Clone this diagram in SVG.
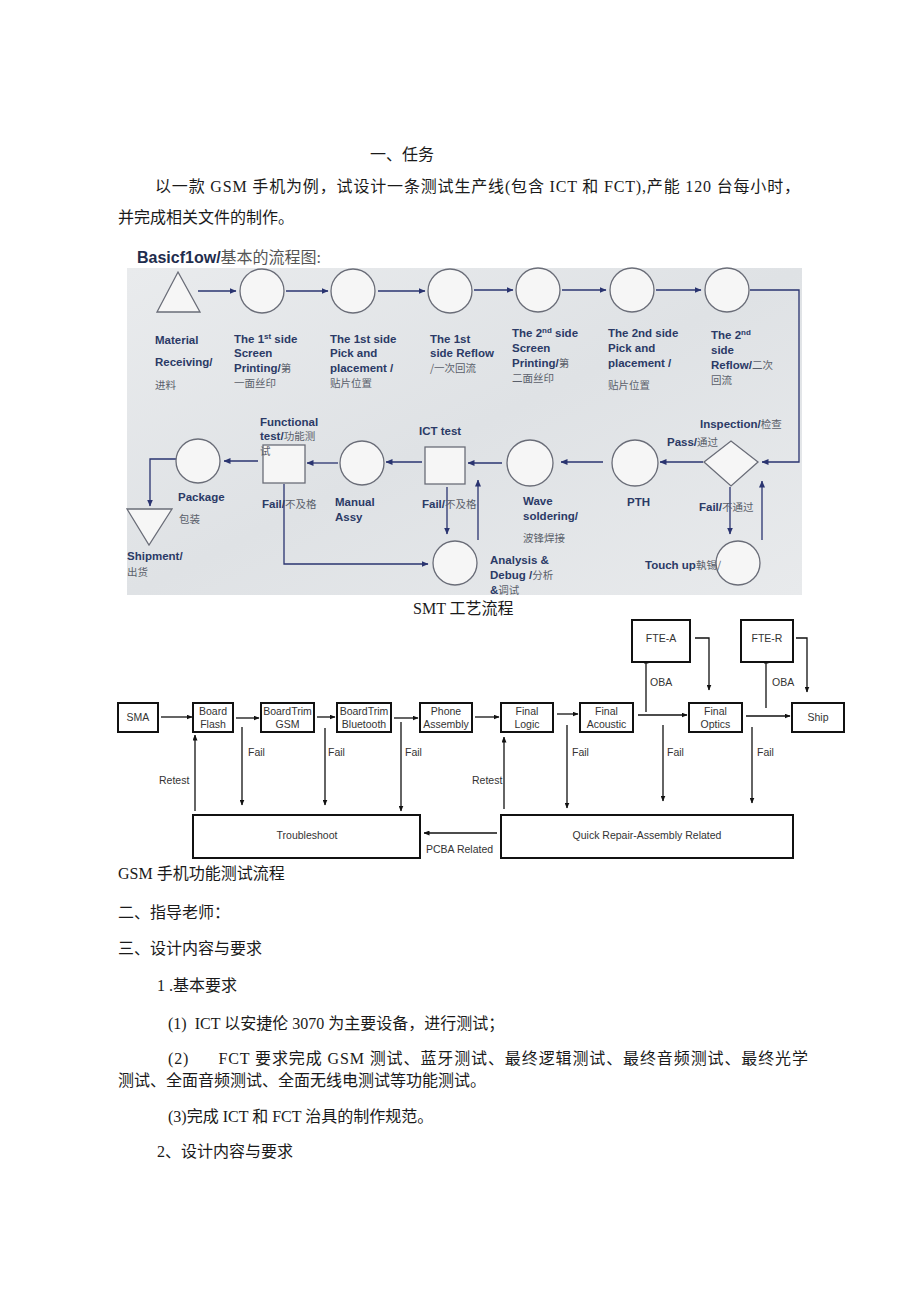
<svg xmlns="http://www.w3.org/2000/svg" width="920" height="1301" viewBox="0 0 920 1301">
<defs>
<linearGradient id="bg" x1="0" y1="0" x2="1" y2="1">
<stop offset="0" stop-color="#e9ebed"/>
<stop offset="0.5" stop-color="#dfe2e5"/>
<stop offset="1" stop-color="#e8eaec"/>
</linearGradient>
<marker id="ah" markerWidth="7" markerHeight="6" refX="6.5" refY="3" orient="auto" markerUnits="userSpaceOnUse">
<path d="M0,0 L7,3 L0,6 Z" fill="#2a3470"/>
</marker>
<marker id="bh" markerWidth="6" markerHeight="5" refX="5.5" refY="2.5" orient="auto" markerUnits="userSpaceOnUse">
<path d="M0,0 L6,2.5 L0,5 Z" fill="#111"/>
</marker>
<style>
.body{font-family:"Liberation Serif","Noto Sans CJK SC",serif;font-size:16px;fill:#1a1a1a}
.lb{font-family:"Liberation Sans","Noto Sans CJK SC",sans-serif;font-size:11.5px;font-weight:bold;fill:#2b3a66}
.cn{font-family:"Noto Sans CJK SC",sans-serif;font-size:10.5px;font-weight:normal;fill:#5a5f6a}
.nd{fill:#f6f6f6;stroke:#6a6d78;stroke-width:1.3}
.cw{fill:none;stroke:#2a3470;stroke-width:1.3}
.bx{fill:#fff;stroke:#111;stroke-width:2}
.bt{font-family:"Liberation Sans",Arial,sans-serif;font-size:10.5px;fill:#333;text-anchor:middle}
.bl{font-family:"Liberation Sans",Arial,sans-serif;font-size:10.5px;fill:#333}
.bw{fill:none;stroke:#111;stroke-width:1.3}
</style>
</defs>
<rect width="920" height="1301" fill="#fff"/>

<g id="text-top">
<text class="body" x="370" y="160">一、任务</text>
<text class="body" x="155" y="192" textLength="645" lengthAdjust="spacing">以一款 GSM 手机为例，试设计一条测试生产线(包含 ICT 和 FCT),产能 120 台每小时，</text>
<text class="body" x="118" y="223">并完成相关文件的制作。</text>
<text x="137" y="263" font-family="Liberation Sans,sans-serif" font-size="16" font-weight="bold" fill="#1f2d4d">Basicf1ow/<tspan font-family="Liberation Serif,Noto Sans CJK SC,serif" font-weight="normal" fill="#555">基本的流程图:</tspan></text>
</g>

<rect id="smt-bg" x="127" y="268" width="675" height="327" fill="url(#bg)"/>

<g id="smt-connectors">
<line class="cw" x1="198" y1="291" x2="236" y2="291" marker-end="url(#ah)"/>
<line class="cw" x1="286" y1="291" x2="328" y2="291" marker-end="url(#ah)"/>
<line class="cw" x1="378" y1="291" x2="425" y2="291" marker-end="url(#ah)"/>
<line class="cw" x1="474" y1="290" x2="513" y2="290" marker-end="url(#ah)"/>
<line class="cw" x1="562" y1="290" x2="606" y2="290" marker-end="url(#ah)"/>
<line class="cw" x1="656" y1="290" x2="701" y2="290" marker-end="url(#ah)"/>
<path class="cw" d="M750,290 H799 V462 H762" marker-end="url(#ah)"/>
<line class="cw" x1="703" y1="462" x2="660" y2="462" marker-end="url(#ah)"/>
<line class="cw" x1="603" y1="462" x2="561" y2="462" marker-end="url(#ah)"/>
<line class="cw" x1="502" y1="463" x2="468" y2="463" marker-end="url(#ah)"/>
<line class="cw" x1="422" y1="462" x2="386" y2="462" marker-end="url(#ah)"/>
<line class="cw" x1="338" y1="463" x2="307" y2="463" marker-end="url(#ah)"/>
<line class="cw" x1="258" y1="461" x2="224" y2="461" marker-end="url(#ah)"/>
<path class="cw" d="M177,459 H150 V506" marker-end="url(#ah)"/>
<path class="cw" d="M284,484 V564 H428" marker-end="url(#ah)"/>
<line class="cw" x1="447" y1="487" x2="447" y2="534" marker-end="url(#ah)"/>
<line class="cw" x1="478" y1="540" x2="478" y2="480" marker-end="url(#ah)"/>
<line class="cw" x1="730" y1="487" x2="730" y2="534" marker-end="url(#ah)"/>
<line class="cw" x1="762" y1="540" x2="762" y2="481" marker-end="url(#ah)"/>
</g>

<g id="n-material"><polygon class="nd" points="178,272 200,312 157,312"/>
<text class="lb" x="155" y="344">Material</text><text class="lb" x="155" y="366">Receiving/</text><text class="lb cn" x="155" y="389">进料</text></g>
<g id="n-print1"><circle class="nd" cx="262" cy="291" r="22"/>
<text class="lb" x="234" y="343">The 1<tspan font-size="8" dy="-4">st</tspan><tspan dy="4"> side</tspan></text><text class="lb" x="234" y="357">Screen</text><text class="lb" x="234" y="372">Printing/<tspan class="cn">第</tspan></text><text class="lb cn" x="234" y="387">一面丝印</text></g>
<g id="n-place1"><circle class="nd" cx="353" cy="291" r="22"/>
<text class="lb" x="330" y="343">The 1st side</text><text class="lb" x="330" y="357">Pick and</text><text class="lb" x="330" y="372">placement /</text><text class="lb cn" x="330" y="387">贴片位置</text></g>
<g id="n-reflow1"><circle class="nd" cx="450" cy="291" r="22"/>
<text class="lb" x="430" y="343">The 1st</text><text class="lb" x="430" y="357">side Reflow</text><text class="lb" x="430" y="372"><tspan class="cn">/一次回流</tspan></text></g>
<g id="n-print2"><circle class="nd" cx="538" cy="290" r="22"/>
<text class="lb" x="512" y="337">The 2<tspan font-size="8" dy="-4">nd</tspan><tspan dy="4"> side</tspan></text><text class="lb" x="512" y="352">Screen</text><text class="lb" x="512" y="367">Printing/<tspan class="cn">第</tspan></text><text class="lb cn" x="512" y="382">二面丝印</text></g>
<g id="n-place2"><circle class="nd" cx="632" cy="290" r="22"/>
<text class="lb" x="608" y="337">The 2nd side</text><text class="lb" x="608" y="352">Pick and</text><text class="lb" x="608" y="367">placement /</text><text class="lb cn" x="608" y="389">贴片位置</text></g>
<g id="n-reflow2"><circle class="nd" cx="727" cy="290" r="22"/>
<text class="lb" x="711" y="339">The 2<tspan font-size="8" dy="-4">nd</tspan></text><text class="lb" x="711" y="354">side</text><text class="lb" x="711" y="369">Reflow/<tspan class="cn">二次</tspan></text><text class="lb cn" x="711" y="384">回流</text></g>
<g id="n-inspection"><polygon class="nd" points="704,462 731,441 758,462 731,486"/>
<text class="lb" x="700" y="428">Inspection/<tspan class="cn">检查</tspan></text><text class="lb" x="667" y="446">Pass/<tspan class="cn">通过</tspan></text><text class="lb" x="699" y="511">Fail/<tspan class="cn">不通过</tspan></text></g>
<g id="n-touchup"><circle class="nd" cx="738" cy="563" r="22"/>
<text class="lb" x="645" y="569">Touch up<tspan class="cn">執锡/</tspan></text></g>
<g id="n-pth"><circle class="nd" cx="635" cy="463" r="23"/>
<text class="lb" x="627" y="506">PTH</text></g>
<g id="n-wave"><circle class="nd" cx="530" cy="463" r="23"/>
<text class="lb" x="523" y="505">Wave</text><text class="lb" x="523" y="520">soldering/</text><text class="lb cn" x="523" y="542">波锋焊接</text></g>
<g id="n-ict"><rect class="nd" x="425" y="447" width="40" height="37"/>
<text class="lb" x="419" y="435">ICT test</text><text class="lb" x="422" y="508">Fail/<tspan class="cn">不及格</tspan></text></g>
<g id="n-analysis"><circle class="nd" cx="455" cy="563" r="22"/>
<text class="lb" x="490" y="564">Analysis &amp;</text><text class="lb" x="490" y="579">Debug /<tspan class="cn">分析</tspan></text><text class="lb" x="490" y="594">&amp;<tspan class="cn">调试</tspan></text></g>
<g id="n-manual"><circle class="nd" cx="362" cy="463" r="22"/>
<text class="lb" x="335" y="506">Manual</text><text class="lb" x="335" y="521">Assy</text></g>
<g id="n-functional"><rect class="nd" x="263" y="445" width="42" height="38"/>
<text class="lb" x="260" y="426">Functional</text><text class="lb" x="260" y="440">test/<tspan class="cn">功能测</tspan></text><text class="lb cn" x="260" y="455">试</text><text class="lb" x="262" y="508">Fail/<tspan class="cn">不及格</tspan></text></g>
<g id="n-package"><circle class="nd" cx="198" cy="461" r="22"/>
<text class="lb" x="178" y="501">Package</text><text class="lb cn" x="179" y="523">包装</text></g>
<g id="n-shipment"><polygon class="nd" points="127,509 172,509 149,545"/>
<text class="lb" x="127" y="560">Shipment/</text><text class="lb cn" x="127" y="576">出货</text></g>

<text class="body" x="413" y="614">SMT 工艺流程</text>

<g id="gsm-connectors">
<line class="bw" x1="161" y1="717" x2="192" y2="717" marker-end="url(#bh)"/>
<line class="bw" x1="236" y1="718" x2="259" y2="718" marker-end="url(#bh)"/>
<line class="bw" x1="317" y1="717" x2="335" y2="717" marker-end="url(#bh)"/>
<line class="bw" x1="394" y1="718" x2="418" y2="718" marker-end="url(#bh)"/>
<line class="bw" x1="475" y1="717" x2="499" y2="717" marker-end="url(#bh)"/>
<line class="bw" x1="557" y1="714" x2="578" y2="714" marker-end="url(#bh)"/>
<line class="bw" x1="638" y1="715" x2="687" y2="715" marker-end="url(#bh)"/>
<line class="bw" x1="746" y1="716" x2="790" y2="716" marker-end="url(#bh)"/>
<line class="bw" x1="646" y1="712" x2="646" y2="658" marker-end="url(#bh)"/>
<path class="bw" d="M695,638 H709 V690" marker-end="url(#bh)"/>
<line class="bw" x1="766" y1="708" x2="766" y2="658" marker-end="url(#bh)"/>
<path class="bw" d="M796,638 H807 V692" marker-end="url(#bh)"/>
<line class="bw" x1="242" y1="727" x2="242" y2="805" marker-end="url(#bh)"/>
<line class="bw" x1="325" y1="728" x2="325" y2="805" marker-end="url(#bh)"/>
<line class="bw" x1="401" y1="722" x2="401" y2="811" marker-end="url(#bh)"/>
<line class="bw" x1="567" y1="725" x2="567" y2="808" marker-end="url(#bh)"/>
<line class="bw" x1="663" y1="725" x2="663" y2="801" marker-end="url(#bh)"/>
<line class="bw" x1="752" y1="727" x2="752" y2="803" marker-end="url(#bh)"/>
<line class="bw" x1="195" y1="811" x2="195" y2="735" marker-end="url(#bh)"/>
<line class="bw" x1="504" y1="809" x2="504" y2="737" marker-end="url(#bh)"/>
<line class="bw" x1="497" y1="833" x2="424" y2="833" marker-end="url(#bh)"/>
</g>
<g id="gsm-labels">
<text class="bl" x="248" y="756">Fail</text><text class="bl" x="328" y="756">Fail</text><text class="bl" x="405" y="756">Fail</text>
<text class="bl" x="572" y="756">Fail</text><text class="bl" x="667" y="756">Fail</text><text class="bl" x="757" y="756">Fail</text>
<text class="bl" x="159" y="784">Retest</text><text class="bl" x="472" y="784">Retest</text>
<text class="bl" x="650" y="686">OBA</text><text class="bl" x="772" y="686">OBA</text>
<text class="bl" x="426" y="853">PCBA Related</text>
</g>
<g id="g-sma"><rect class="bx" x="118" y="703" width="40" height="29"/><text class="bt" x="138" y="721">SMA</text></g>
<g id="g-flash"><rect class="bx" x="193" y="703" width="40" height="29"/><text class="bt" x="213" y="715">Board</text><text class="bt" x="213" y="728">Flash</text></g>
<g id="g-gsm"><rect class="bx" x="261" y="703" width="53" height="29"/><text class="bt" x="287.5" y="715">BoardTrim</text><text class="bt" x="287.5" y="728">GSM</text></g>
<g id="g-bt"><rect class="bx" x="337" y="703" width="54" height="29"/><text class="bt" x="364" y="715">BoardTrim</text><text class="bt" x="364" y="728">Bluetooth</text></g>
<g id="g-phone"><rect class="bx" x="420" y="703" width="52" height="29"/><text class="bt" x="446" y="715">Phone</text><text class="bt" x="446" y="728">Assembly</text></g>
<g id="g-logic"><rect class="bx" x="501" y="703" width="52" height="29"/><text class="bt" x="527" y="715">Final</text><text class="bt" x="527" y="728">Logic</text></g>
<g id="g-acoustic"><rect class="bx" x="580" y="703" width="53" height="29"/><text class="bt" x="606.5" y="715">Final</text><text class="bt" x="606.5" y="728">Acoustic</text></g>
<g id="g-optics"><rect class="bx" x="689" y="703" width="53" height="29"/><text class="bt" x="715.5" y="715">Final</text><text class="bt" x="715.5" y="728">Optics</text></g>
<g id="g-ship"><rect class="bx" x="792" y="703" width="52" height="29"/><text class="bt" x="818" y="721">Ship</text></g>
<g id="g-ftea"><rect class="bx" x="632" y="620" width="58" height="42"/><text class="bt" x="661" y="642">FTE-A</text></g>
<g id="g-fter"><rect class="bx" x="741" y="620" width="52" height="42"/><text class="bt" x="767" y="642">FTE-R</text></g>
<g id="g-trouble"><rect class="bx" x="193" y="815" width="227" height="43"/><text class="bt" x="307" y="839">Troubleshoot</text></g>
<g id="g-quick"><rect class="bx" x="501" y="815" width="292" height="43"/><text class="bt" x="647" y="839">Quick Repair-Assembly Related</text></g>

<g id="text-bottom">
<text class="body" x="118" y="879">GSM 手机功能测试流程</text>
<text class="body" x="118" y="918">二、指导老师：</text>
<text class="body" x="118" y="954">三、设计内容与要求</text>
<text class="body" x="157" y="991">1 .基本要求</text>
<text class="body" x="168" y="1029" xml:space="preserve">(1)  ICT 以安捷伦 3070 为主要设备，进行测试；</text>
<text class="body" x="168" y="1064" textLength="640" lengthAdjust="spacing" xml:space="preserve">(2)      FCT 要求完成 GSM 测试、蓝牙测试、最终逻辑测试、最终音频测试、最终光学</text>
<text class="body" x="118" y="1086">测试、全面音频测试、全面无线电测试等功能测试。</text>
<text class="body" x="168" y="1122">(3)完成 ICT 和 FCT 治具的制作规范。</text>
<text class="body" x="157" y="1157">2、设计内容与要求</text>
</g>
</svg>
